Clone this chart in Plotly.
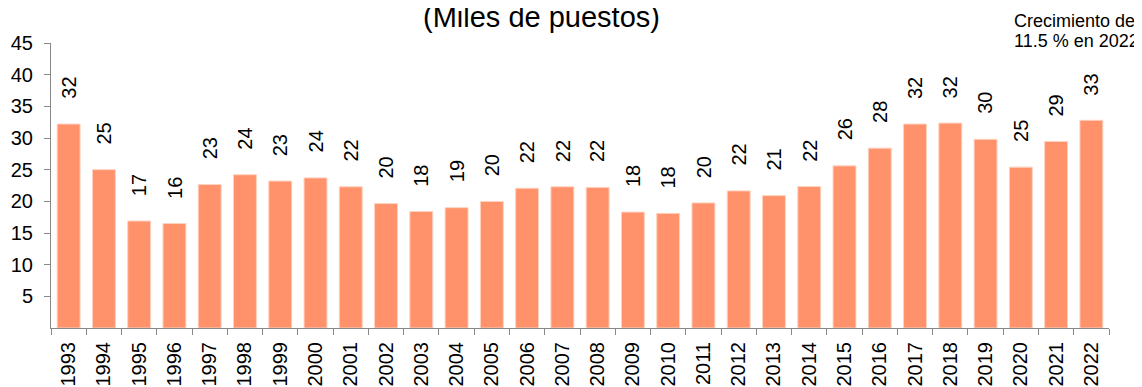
import plotly.graph_objects as go

years = [str(y) for y in range(1993, 2023)]
values = [32.2, 25.0, 16.9, 16.5, 22.65, 24.2, 23.2, 23.7, 22.3, 19.65,
          18.4, 19.0, 19.97, 22.07, 22.3, 22.2, 18.3, 18.1, 19.75, 21.65,
          20.9, 22.33, 25.6, 28.4, 32.2, 32.35, 29.8, 25.4, 29.45, 32.8]
labels = [str(int(round(v))) for v in values]
yticks = [5, 10, 15, 20, 25, 30, 35, 40, 45]

font = "Liberation Sans, Arial, sans-serif"
bar_color = "#FF926A"

fig = go.Figure()
fig.add_trace(go.Bar(
    x=years, y=values,
    marker=dict(color=bar_color, line=dict(color="#FFD2C0", width=1)),
    showlegend=False, hoverinfo="x+y",
))

for i, (v, lab) in enumerate(zip(values, labels)):
    fig.add_annotation(
        x=i, y=v, text=lab, textangle=-90, showarrow=False,
        xanchor="center", yanchor="bottom", yshift=23,
        font=dict(family=font, size=20, color="#000"),
    )

fig.add_annotation(
    xref="paper", yref="paper", x=0.464, y=1.0, yshift=44,
    text="(Miles de puestos)", showarrow=False, xanchor="center", yanchor="top",
    font=dict(family=font, size=29, color="#000"),
)
for txt, ys in (("Crecimiento de", 34), ("11.5 % en 2022", 14)):
    fig.add_annotation(
        xref="paper", yref="paper", x=1.0, xshift=-97, y=1.0, yshift=ys,
        text=txt, showarrow=False, xanchor="left", yanchor="top", align="left",
        font=dict(family=font, size=18, color="#000"),
    )

fig.update_layout(
    width=1142, height=387,
    margin=dict(l=43, r=41, t=35, b=67),
    plot_bgcolor="white", paper_bgcolor="white",
    bargap=0.35,
    font=dict(family=font, size=20, color="#000"),
    xaxis=dict(
        type="category", range=[-0.5, len(years) - 0.5],
        showline=True, linecolor="#888", linewidth=1,
        ticks="outside", tickson="boundaries", ticklen=6, tickcolor="#888",
        tickangle=-90, showgrid=False, tickfont=dict(size=20),
        ticklabelstandoff=5, automargin=False,
    ),
    yaxis=dict(
        range=[0, 45], tickvals=yticks, showline=True, linecolor="#888",
        linewidth=1, ticks="outside", ticklen=6, tickcolor="#888",
        showgrid=False, zeroline=False, tickfont=dict(size=20),
        ticklabelstandoff=7, automargin=False,
    ),
)

fig.write_html("out.html")
